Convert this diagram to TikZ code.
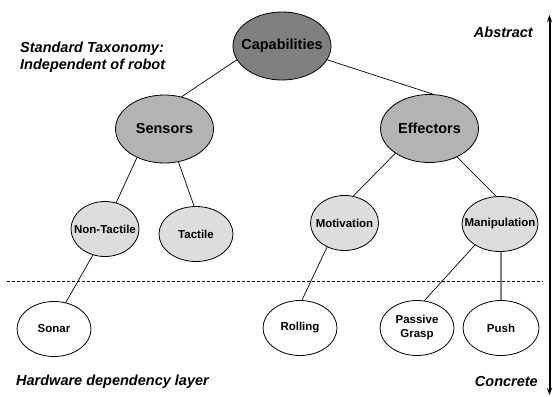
\documentclass[tikz,border=0pt]{standalone}
\usepackage{fontspec}
\setmainfont{Liberation Sans}
\usetikzlibrary{shapes.geometric,arrows.meta}
\definecolor{capfill}{HTML}{808080}
\definecolor{midfill}{HTML}{B3B3B3}
\definecolor{lowfill}{HTML}{DDDDDD}
\definecolor{pushline}{HTML}{808080}
\newcommand{\ztext}[1]{\makebox[0pt]{#1}}
\begin{document}
\begin{tikzpicture}[x=1pt,y=-1pt,
  ell/.style={draw=black, line width=0.8pt, ellipse, inner sep=0pt},
  big/.style={ell, minimum width=98pt, minimum height=68pt, font=\fontsize{14.5}{17}\selectfont\bfseries},
  small/.style={ell, minimum width=74pt, minimum height=55pt, font=\fontsize{11.5}{14}\selectfont\bfseries},
  conn/.style={line width=0.7pt},
  side/.style={font=\fontsize{14.5}{17}\selectfont\bfseries\itshape, inner sep=0pt}
]
\useasboundingbox (0,0) rectangle (553,396);

% nodes
\node[big, fill=capfill] (cap) at (282,46) {\ztext{Capabilities}};
\node[big, fill=midfill] (sen) at (164.5,129) {\ztext{Sensors}};
\node[big, fill=midfill] (eff) at (429.5,128.5) {\ztext{Effectors}};
\node[small, fill=lowfill, minimum width=68pt] (nt) at (105,229) {\ztext{Non-Tactile}};
\node[small, fill=lowfill] (tac) at (196,234) {\ztext{Tactile}};
\node[small, fill=lowfill, minimum width=68pt] (mot) at (344.5,223) {\ztext{Motivation}};
\node[small, fill=lowfill, minimum width=76pt] (man) at (500,224) {\ztext{Manipulation}};
\node[small, fill=white] (son) at (54,329) {\ztext{Sonar}};
\node[small, fill=white] (rol) at (300,328) {\ztext{Rolling}};
\node[small, fill=white] (pas) at (417,328) {\ztext{\begin{tabular}{@{}c@{}}Passive\\Grasp\end{tabular}}};
\node[small, fill=white, minimum width=76pt] (push) at (501,328) {\ztext{Push}};

% connectors
\draw[conn] (cap.197) -- (sen.62);
\draw[conn] (cap.343) -- (eff.84);
\draw[conn] (sen.226) -- (nt.67);
\draw[conn] (sen.293) -- (tac.94);
\draw[conn] (eff.216) -- (mot.72);
\draw[conn] (eff.314) -- (man.98);
\draw[conn] (nt.245) -- (son.66);
\draw[conn] (mot.234) -- (rol.86);
\draw[conn] (man.220) -- (pas.75);
\draw[line width=1.4pt, draw=pushline] (man.south -| push.north) -- (push.north);

% dashed separator
\coordinate (dl) at (7,281);
\coordinate (dr) at (543,281);
\draw[line width=0.6pt, dash pattern=on 3pt off 2pt] (dl) -- (dr);

% abstraction arrow
\coordinate (ab) at (549.5,395);
\coordinate (at) at (549.5,15);
\draw[line width=2pt, {Stealth[length=7pt,width=5pt]}-{Stealth[length=7pt,width=5pt]}] (ab) -- (at);

% side labels
\node[side, anchor=west, align=left] (std) at (20,57.5) {Standard Taxonomy:\\Independent of robot};
\node[side, anchor=east] (abs) at (533,32) {Abstract};
\node[side, anchor=west] (hw) at (16,382) {Hardware dependency layer};
\node[side, anchor=east] (con) at (538,382) {Concrete};
\end{tikzpicture}
\end{document}
